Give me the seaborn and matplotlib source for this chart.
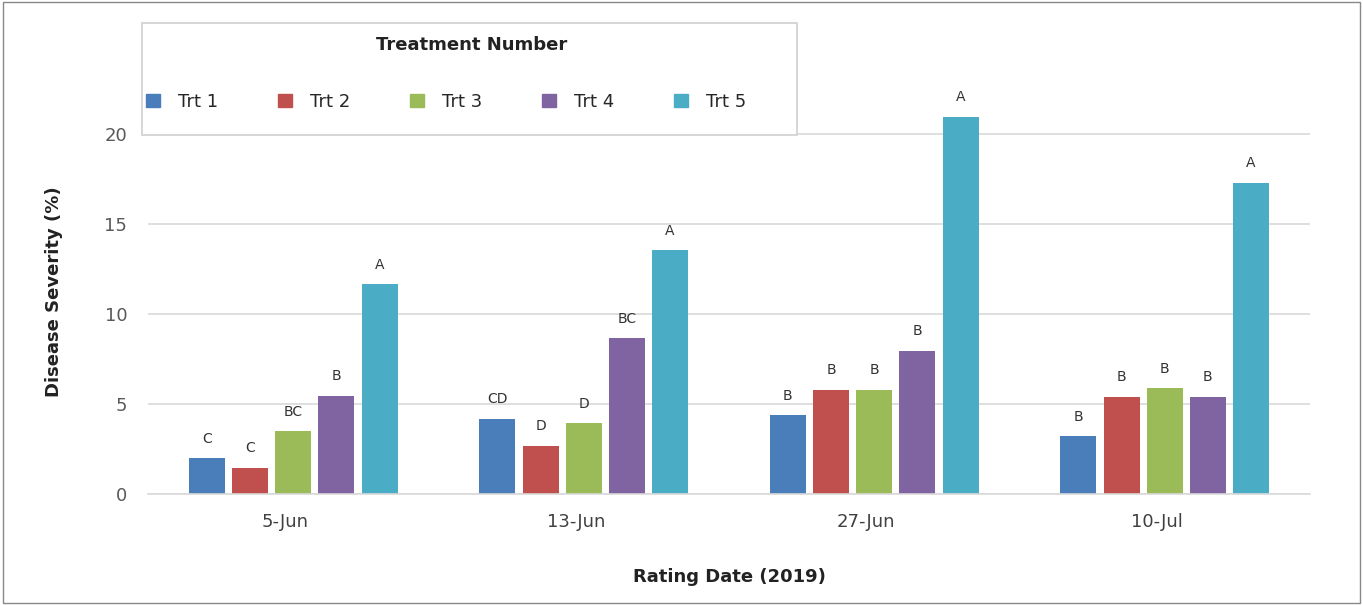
import matplotlib.pyplot as plt
import matplotlib.patches as mpatches
import matplotlib.transforms as mtransforms
import seaborn as sns
import pandas as pd

# data
dates = ["5-Jun", "13-Jun", "27-Jun", "10-Jul"]
treatments = ["Trt 1", "Trt 2", "Trt 3", "Trt 4", "Trt 5"]
trt1 = [2.0, 4.17, 4.39, 3.22]
trt2 = [1.45, 2.67, 5.8, 5.41]
trt3 = [3.5, 3.94, 5.8, 5.87]
trt4 = [5.45, 8.67, 7.96, 5.41]
trt5 = [11.67, 13.56, 20.96, 17.3]
letters = {
    "Trt 1": ["C", "CD", "B", "B"],
    "Trt 2": ["C", "D", "B", "B"],
    "Trt 3": ["BC", "D", "B", "B"],
    "Trt 4": ["B", "BC", "B", "B"],
    "Trt 5": ["A", "A", "A", "A"],
}
colors = ["#4a7ebb", "#c0504d", "#9bbb59", "#8064a2", "#4bacc6"]

rows = []
for trt, vals in zip(treatments, [trt1, trt2, trt3, trt4, trt5]):
    for d, v in zip(dates, vals):
        rows.append({"date": d, "trt": trt, "severity": v})
df = pd.DataFrame(rows)

sns.set_style("white")
fig = plt.figure(figsize=(13.63, 6.05), dpi=100)
ax = fig.add_axes([0.1086, 0.1835, 0.8525, 0.669])

sns.barplot(data=df, x="date", y="severity", hue="trt", order=dates,
            hue_order=treatments, palette=colors, width=0.743, gap=0.166,
            saturation=1, linewidth=0, ax=ax, legend=False)

# letters above the bars
for container, trt in zip(ax.containers, treatments):
    for bar, lab in zip(container, letters[trt]):
        ax.annotate(lab, (bar.get_x() + bar.get_width() / 2, bar.get_height()),
                    xytext=(0, 9), textcoords="offset points",
                    ha="center", va="bottom", fontsize=10, color="#333333")

ax.set_ylim(0, 22.5)
ax.set_xlim(-0.5, 3.5)
ax.set_yticks([0, 5, 10, 15, 20])
ax.yaxis.grid(True, color="#d9d9d9", linewidth=1.2)
ax.set_axisbelow(True)
for s in ["top", "left", "right"]:
    ax.spines[s].set_visible(False)
ax.spines["bottom"].set_color("#d9d9d9")
ax.spines["bottom"].set_linewidth(1.2)
ax.tick_params(axis="y", length=0, labelsize=13, labelcolor="#595959", pad=15)
ax.tick_params(axis="x", length=0, labelsize=13, labelcolor="#404040", pad=14)
# category labels sit a little left of the bar groups in the original
shift = mtransforms.ScaledTranslation(-8 / 100, 0, fig.dpi_scale_trans)
for lbl in ax.get_xticklabels():
    lbl.set_transform(lbl.get_transform() + shift)
ax.set_xlabel("Rating Date (2019)", fontsize=13, fontweight="bold", color="#222222", labelpad=26)
ax.set_ylabel("Disease Severity (%)", fontsize=13, fontweight="bold", color="#222222", labelpad=30)

# legend box drawn by hand, entries from a frameless legend
fig.patches.append(mpatches.Rectangle((142 / 1363, 1 - 135 / 605), 655 / 1363, 112 / 605,
                                      transform=fig.transFigure, facecolor="white",
                                      edgecolor="#d0d0d0", linewidth=1.2, zorder=3))
fig.text(472 / 1363, 1 - 45 / 605, "Treatment Number", ha="center", va="center",
         fontsize=13, fontweight="bold", color="#222222", zorder=4)
handles = [mpatches.Patch(color=c, label=t) for c, t in zip(colors, treatments)]
leg = fig.legend(handles=handles, ncol=5, loc="center left",
                 bbox_to_anchor=(146 / 1363, 1 - 102 / 605), borderaxespad=0,
                 borderpad=0, fontsize=13, handlelength=0.78, handleheight=0.72,
                 handletextpad=1.0, columnspacing=3.3, frameon=False)
leg.set_zorder(5)

# thin border around the whole figure
fig.patches.append(mpatches.Rectangle((0.002, 0.003), 0.996, 0.994, transform=fig.transFigure,
                                      fill=False, edgecolor="#888888", linewidth=1))

fig.savefig("out.png", dpi=100)
